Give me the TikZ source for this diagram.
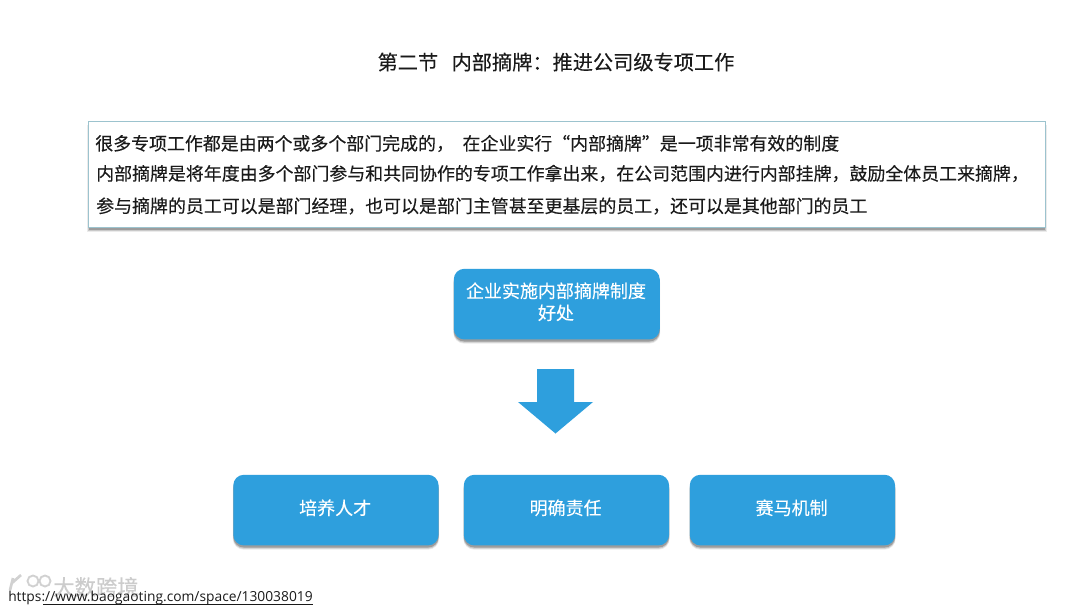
\documentclass[tikz,border=0pt]{standalone}
\usepackage{fontspec}
\setmainfont[FakeBold=0.2]{Noto Sans CJK SC}
\newfontfamily\latinfont{Open Sans}
\usetikzlibrary{shadows}
\definecolor{bluefill}{HTML}{2E9FDD}
\definecolor{boxline}{HTML}{9CC3CE}
\definecolor{inktext}{HTML}{1A1A1A}
\tikzset{
 x=0.75pt,y=-0.75pt,
 softshadow/.style={
  drop shadow={shadow xshift=0pt,shadow yshift=-3pt,shadow scale=1.004,fill=black,opacity=0.08},
  drop shadow={shadow xshift=0pt,shadow yshift=-2.4pt,shadow scale=1.002,fill=black,opacity=0.14},
  drop shadow={shadow xshift=0pt,shadow yshift=-1.6pt,fill=black,opacity=0.22}},
 bluebox/.style={rounded corners=8pt,fill=bluefill,softshadow,text=white,font=\fontsize{13.5pt}{16.5pt}\selectfont,align=center,inner sep=0pt,anchor=north west},
 bodyline/.style={anchor=west,inner sep=0pt,text=inktext,font=\fontsize{13.45pt}{16pt}\selectfont},
}
\newcommand{\liftline}[1]{\raisebox{1.3pt}[0.85em][0.15em]{\hspace{-1.2pt}#1}}
\begin{document}
\begin{tikzpicture}
\useasboundingbox (0,0) rectangle (1080,608);
\fill[white] (0,0) rectangle (1080,608);
\node[inner sep=0pt,text=inktext,font=\fontsize{15.15pt}{18pt}\selectfont] (title) at (556,62) {第二节\hspace{10pt}内部摘牌：推进公司级专项工作};
\node[anchor=north west,draw=boxline,line width=0.9pt,fill=white,softshadow,minimum width=717.5pt,minimum height=79.5pt,inner sep=0pt] (intro) at (88,121) {};
\node[bodyline] (l1) at (95,143.5) {很多专项工作都是由两个或多个部门完成的，\hspace{6.5pt}在企业实行“内部摘牌”是一项非常有效的制度};
\node[bodyline] (l2) at (96,173.5) {内部摘牌是将年度由多个部门参与和共同协作的专项工作拿出来，在公司范围内进行内部挂牌，鼓励全体员工来摘牌，};
\node[bodyline] (l3) at (96,206) {参与摘牌的员工可以是部门经理，也可以是部门主管甚至更基层的员工，还可以是其他部门的员工};
\node[bluebox,minimum width=154.5pt,minimum height=53pt] (top) at (453.5,268.5) {\liftline{企业实施内部摘牌制度}\\\liftline{好处}};
\fill[bluefill] (537,369) -- (574,369) -- (574,402) -- (593,402) -- (555.5,433.5) -- (518,402) -- (537,402) -- cycle;
\node[bluebox,minimum width=154pt,minimum height=53pt] (a) at (233,474.5) {\liftline{培养人才}};
\node[bluebox,minimum width=154pt,minimum height=53pt] (b) at (463.5,474.5) {\liftline{明确责任}};
\node[bluebox,minimum width=154pt,minimum height=53pt] (c) at (689.5,474.5) {\liftline{赛马机制}};
\node[anchor=west,inner sep=0pt,text=black!20,font=\fontsize{16pt}{18pt}\selectfont] (mark) at (53,587) {大数跨境};
\draw[black!18,line width=2pt] (10,590) -- (13,578) (12,583) -- (21,575);
\draw[black!18,line width=1.4pt] (33,581) circle (5.5) (45,581) circle (5.5);
\node[anchor=west,inner sep=0pt,text=inktext,font=\latinfont\fontsize{10.35pt}{12pt}\selectfont] (url) at (8,597.5) {https://www.baogaoting.com/space/130038019};
\draw[inktext,line width=0.6pt] (43,604) -- (313,604);
\end{tikzpicture}
\end{document}
